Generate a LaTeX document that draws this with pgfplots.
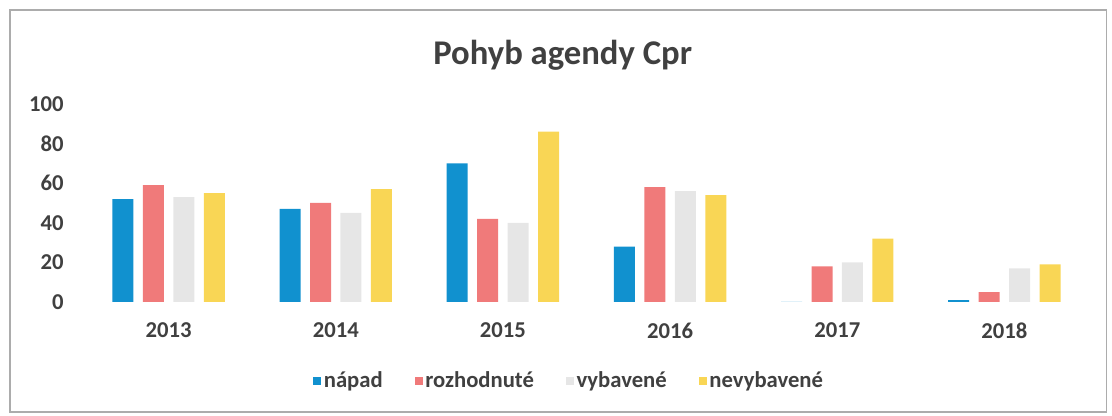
\documentclass[border=0pt]{standalone}
\usepackage{pgfplots}
\pgfplotsset{compat=1.18}
\usepackage{fontspec}
\setmainfont{Carlito}
\definecolor{cblue}{RGB}{17,145,207}
\definecolor{cred}{RGB}{240,122,122}
\definecolor{cgray}{RGB}{230,230,230}
\definecolor{cyellow}{RGB}{249,214,85}
\definecolor{ctext}{RGB}{64,64,64}
\begin{document}
\begin{tikzpicture}
\path[use as bounding box] (0,0) rectangle (834pt,312pt);
\draw[gray!65, line width=1.2pt] (7.5pt,3pt) rectangle (830pt,304.5pt);
\node[font=\fontsize{26}{30}\selectfont\bfseries, text=ctext] at (422pt,270.75pt) {Pohyb agendy Cpr};
\begin{axis}[
  at={(63.75pt,85.5pt)}, anchor=south west,
  scale only axis, width=752.25pt, height=148.5pt,
  ymin=0, ymax=100, xmin=-0.5, xmax=5.5,
  ytick={0,20,...,100},
  xtick={0,...,5},
  xticklabels={2013,2014,2015,2016,2017,2018},
  axis line style={draw=none},
  major tick length=0pt,
  ybar=7.1pt, bar width=15.75pt,
  tick label style={font=\fontsize{17}{20}\selectfont\bfseries, text=ctext},
  /pgf/number format/assume math mode=true,
  xticklabel style={yshift=-12pt},
  yticklabel style={xshift=-12.5pt},
  legend columns=4,
  legend style={at={(0.483,-0.399)}, anchor=center, draw=none, fill=none,
    font=\fontsize{17}{20}\selectfont\bfseries, text=ctext,
    /tikz/every even column/.append style={column sep=22pt}},
]
\addplot[fill=cblue, draw=none, legend image code/.code={\fill[cblue] (0pt,-3pt) rectangle (6pt,3pt);}]
  coordinates {(0,52) (1,47) (2,70) (3,28) (4,0) (5,1)};
\addlegendentry{nápad}
\addplot[fill=cred, draw=none, legend image code/.code={\fill[cred] (0pt,-3pt) rectangle (6pt,3pt);}]
  coordinates {(0,59) (1,50) (2,42) (3,58) (4,18) (5,5)};
\addlegendentry{rozhodnuté}
\addplot[fill=cgray, draw=none, legend image code/.code={\fill[cgray] (0pt,-3pt) rectangle (6pt,3pt);}]
  coordinates {(0,53) (1,45) (2,40) (3,56) (4,20) (5,17)};
\addlegendentry{vybavené}
\addplot[fill=cyellow, draw=none, legend image code/.code={\fill[cyellow] (0pt,-3pt) rectangle (6pt,3pt);}]
  coordinates {(0,55) (1,57) (2,86) (3,54) (4,32) (5,19)};
\addlegendentry{nevybavené}
\end{axis}
\end{tikzpicture}
\end{document}
